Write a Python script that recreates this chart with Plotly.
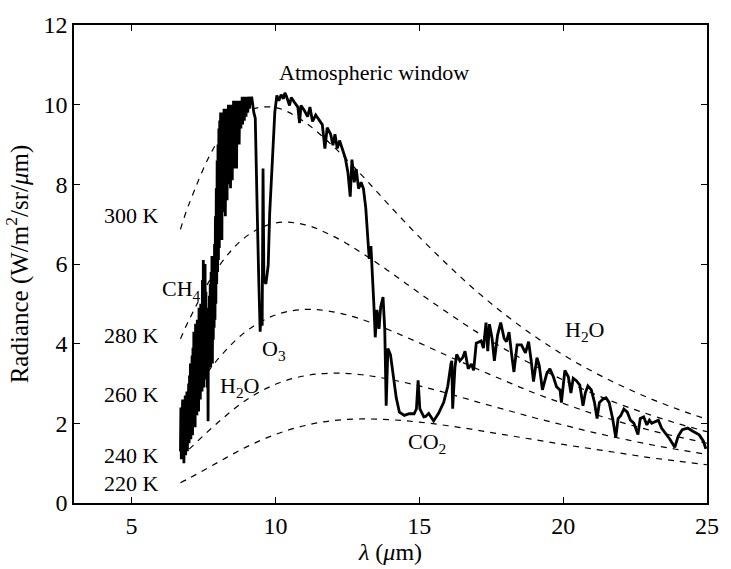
import plotly.graph_objects as go

# ---- Blackbody reference curves ----
bb_lambda = [6.7, 7, 8, 9, 10, 11, 12, 13, 14, 15, 16, 17, 18, 19, 20, 21, 22, 23, 24, 25]
bb_300 = [6.87, 7.51, 9.08, 9.83, 9.93, 9.57, 8.96, 8.23, 7.44, 6.68, 5.97, 5.31, 4.72, 4.19, 3.72, 3.31, 2.95, 2.63, 2.35, 2.10]
bb_280 = [4.12, 4.60, 5.91, 6.70, 7.03, 6.99, 6.70, 6.28, 5.79, 5.27, 4.77, 4.29, 3.85, 3.45, 3.09, 2.76, 2.47, 2.22, 1.99, 1.79]
bb_260 = [2.29, 2.62, 3.61, 4.32, 4.72, 4.86, 4.80, 4.61, 4.33, 4.02, 3.69, 3.37, 3.06, 2.76, 2.50, 2.25, 2.03, 1.83, 1.66, 1.50]
bb_240 = [1.15, 1.35, 2.02, 2.59, 2.98, 3.19, 3.26, 3.22, 3.10, 2.94, 2.75, 2.54, 2.34, 2.14, 1.96, 1.78, 1.62, 1.47, 1.34, 1.22]
bb_220 = [0.51, 0.62, 1.02, 1.41, 1.72, 1.94, 2.07, 2.11, 2.09, 2.03, 1.94, 1.83, 1.71, 1.59, 1.47, 1.36, 1.25, 1.14, 1.05, 0.96]
bb_labels = ["300 K", "280 K", "260 K", "240 K", "220 K"]
bb_label_y = [7.21, 4.21, 2.72, 1.20, 0.49]

# ---- Measured spectrum (read from the chart) ----
# dense, noisy part of the band (6.7 - 9.2 um)
dense_lambda = [
    6.700, 6.715, 6.730, 6.745, 6.760, 6.775, 6.790, 6.805, 6.820, 6.835,
    6.850, 6.865, 6.880, 6.895, 6.910, 6.925, 6.940, 6.955, 6.970, 6.985,
    7.000, 7.015, 7.030, 7.045, 7.060, 7.075, 7.090, 7.105, 7.120, 7.135,
    7.150, 7.165, 7.180, 7.195, 7.210, 7.225, 7.240, 7.255, 7.270, 7.285,
    7.300, 7.315, 7.330, 7.345, 7.360, 7.375, 7.390, 7.405, 7.420, 7.435,
    7.450, 7.465, 7.480, 7.495, 7.510, 7.525, 7.540, 7.555, 7.570, 7.585,
    7.600, 7.615, 7.630, 7.645, 7.660, 7.675, 7.690, 7.705, 7.720, 7.735,
    7.750, 7.765, 7.780, 7.795, 7.810, 7.825, 7.840, 7.855, 7.870, 7.885,
    7.900, 7.915, 7.930, 7.945, 7.960, 7.975, 7.990, 8.005, 8.020, 8.035,
    8.050, 8.065, 8.080, 8.095, 8.110, 8.125, 8.140, 8.155, 8.170, 8.185,
    8.200, 8.215, 8.230, 8.245, 8.260, 8.275, 8.290, 8.305, 8.320, 8.335,
    8.350, 8.365, 8.380, 8.395, 8.410, 8.425, 8.440, 8.455, 8.470, 8.485,
    8.500, 8.515, 8.530, 8.545, 8.560, 8.575, 8.590, 8.605, 8.620, 8.635,
    8.650, 8.665, 8.680, 8.695, 8.710, 8.725, 8.740, 8.755, 8.770, 8.785,
    8.800, 8.815, 8.830, 8.845, 8.860, 8.875, 8.890, 8.905, 8.920, 8.935,
    8.950, 8.965, 8.980, 8.995, 9.010, 9.025, 9.040, 9.055, 9.070, 9.085,
    9.100, 9.115, 9.130, 9.145, 9.160, 9.175, 9.190,
]
dense_radiance = [
    1.3, 2.4, 1.1, 2.0, 1.5, 2.6, 1.2, 2.3, 1.0, 2.5,
    1.4, 2.7, 1.2, 2.2, 1.6, 2.8, 1.3, 2.5, 1.7, 3.0,
    1.5, 3.2, 1.8, 3.5, 1.6, 2.9, 2.0, 3.7, 1.7, 3.9,
    2.0, 4.3, 2.3, 3.8, 1.9, 4.5, 2.4, 4.1, 2.2, 4.6,
    2.5, 4.4, 2.3, 4.9, 2.8, 4.2, 2.6, 5.0, 3.0, 4.7,
    2.8, 5.6, 3.2, 6.1, 2.9, 5.8, 3.4, 6.0, 3.1, 5.3,
    3.3, 4.8, 2.9, 4.4, 2.05, 4.9, 3.4, 5.2, 3.6, 5.5,
    3.4, 5.8, 3.9, 6.2, 3.5, 6.1, 4.1, 5.7, 4.4, 6.5,
    4.6, 7.2, 5.0, 7.9, 5.5, 8.6, 5.8, 9.0, 6.1, 9.4,
    6.4, 9.6, 6.9, 9.8, 7.4, 9.5, 6.6, 9.7, 7.8, 9.8,
    7.3, 9.9, 7.8, 9.6, 7.2, 9.8, 8.3, 9.9, 7.6, 9.7,
    8.5, 10.0, 8.0, 9.8, 8.7, 9.9, 7.9, 10.0, 8.6, 9.9,
    8.1, 10.0, 8.8, 10.1, 9.0, 9.9, 8.4, 10.1, 9.2, 10.0,
    8.4, 10.1, 9.1, 9.9, 9.4, 10.1, 9.0, 10.0, 9.5, 10.1,
    9.4, 10.1, 9.7, 10.2, 9.5, 10.1, 9.8, 10.15, 9.6, 10.2,
    9.8, 10.1, 9.7, 10.2, 9.9, 10.15, 9.8, 10.2, 10.0, 10.1,
    9.9, 10.2, 10.0, 10.15, 10.05, 10.2, 10.1,
]
# rest of the spectrum (9.2 - 25 um)
rest_lambda = [
    9.25, 9.30, 9.33, 9.37, 9.42, 9.47,
    9.50, 9.54, 9.57, 9.60, 9.67, 9.75, 9.80, 9.90, 9.98, 10.05,
    10.12, 10.20, 10.28, 10.33, 10.38, 10.49, 10.55, 10.66, 10.78, 10.84,
    10.89, 11.00, 11.12, 11.20, 11.29, 11.40, 11.52, 11.63, 11.72, 11.80,
    11.92, 12.00, 12.07, 12.15, 12.23, 12.34, 12.43, 12.52, 12.60, 12.66,
    12.74, 12.81, 12.89, 12.98, 13.06, 13.14, 13.20, 13.26, 13.32, 13.38,
    13.42, 13.47, 13.53, 13.60, 13.66, 13.74, 13.80, 13.85, 13.91, 14.00,
    14.08, 14.20, 14.31, 14.48, 14.65, 14.82, 14.90, 14.96, 15.02, 15.16,
    15.22, 15.33, 15.50, 15.67, 15.85, 15.99, 16.10, 16.13, 16.16, 16.24,
    16.30, 16.41, 16.51, 16.59, 16.70, 16.81, 16.89, 16.98, 17.15, 17.23,
    17.32, 17.38, 17.44, 17.53, 17.61, 17.72, 17.83, 17.95, 18.03, 18.12,
    18.21, 18.29, 18.40, 18.55, 18.69, 18.80, 18.89, 18.97, 19.09, 19.17,
    19.28, 19.43, 19.54, 19.66, 19.77, 19.89, 19.94, 20.06, 20.18, 20.27,
    20.35, 20.46, 20.58, 20.69, 20.77, 20.86, 20.98, 21.09, 21.18, 21.26,
    21.37, 21.49, 21.60, 21.72, 21.83, 21.91, 22.00, 22.11, 22.23, 22.34,
    22.46, 22.60, 22.68, 22.80, 22.91, 23.00, 23.08, 23.20, 23.31, 23.42,
    23.60, 23.71, 23.88, 24.00, 24.14, 24.33, 24.51, 24.73, 24.87, 24.96,
]
rest_radiance = [
    9.8, 9.66, 8.86, 7.25, 5.65, 4.3,
    4.85, 4.45, 8.4, 5.6, 5.5, 5.97, 7.25, 8.86, 9.82, 10.23,
    10.1, 10.25, 10.15, 10.3, 10.22, 9.98, 10.18, 10.06, 9.94, 9.54,
    9.98, 9.86, 9.70, 9.94, 9.58, 9.74, 9.62, 9.50, 8.90, 9.42,
    9.26, 8.98, 9.26, 8.90, 9.10, 8.86, 8.66, 8.30, 7.69, 8.62,
    8.05, 8.38, 7.89, 8.05, 7.89, 7.41, 6.77, 6.13, 6.45, 5.73,
    5.01, 4.16, 4.85, 4.37, 4.93, 5.17, 4.37, 2.44, 3.88, 3.72,
    3.24, 2.64, 2.28, 2.20, 2.24, 2.24, 2.36, 3.08, 2.36, 2.16,
    2.17, 2.25, 2.06, 2.25, 2.53, 2.93, 3.49, 3.57, 2.37, 3.41,
    3.73, 3.57, 3.65, 3.81, 3.37, 3.49, 3.33, 4.01, 4.07, 3.89,
    4.53, 3.81, 4.49, 4.13, 3.57, 4.21, 4.53, 4.13, 4.05, 4.29,
    3.73, 3.29, 3.97, 3.97, 3.77, 4.05, 3.57, 3.05, 3.65, 3.45,
    2.84, 3.25, 3.37, 3.17, 2.92, 2.84, 2.52, 3.33, 3.17, 2.76,
    3.13, 3.07, 2.96, 2.44, 2.76, 2.94, 2.84, 2.52, 2.12, 2.52,
    2.60, 2.64, 2.52, 2.12, 1.64, 2.12, 2.19, 2.36, 2.28, 2.08,
    2.00, 1.72, 2.12, 2.16, 1.96, 2.08, 2.00, 2.04, 2.08, 1.88,
    1.72, 1.60, 1.40, 1.68, 1.84, 1.88, 1.80, 1.71, 1.56, 1.36,
]
spec_lambda = dense_lambda + rest_lambda
spec_radiance = dense_radiance + rest_radiance

# ---- Band annotations ----
band_text = ["Atmospheric window", "CH<sub>4</sub>", "O<sub>3</sub>", "H<sub>2</sub>O", "CO<sub>2</sub>", "H<sub>2</sub>O"]
band_x = [10.04, 6.0, 9.46, 7.99, 14.55, 20.0]
band_y = [10.82, 5.35, 3.85, 2.9, 1.5, 4.33]

x_ticks = [5, 10, 15, 20, 25]
y_ticks = [0, 2, 4, 6, 8, 10, 12]

FONT = "Liberation Serif"

fig = go.Figure()
for ys in [bb_300, bb_280, bb_260, bb_240, bb_220]:
    fig.add_trace(go.Scatter(
        x=bb_lambda, y=ys, mode="lines",
        line=dict(color="black", width=1.2, dash="6px,6px", shape="spline"),
        showlegend=False, hoverinfo="skip"))

fig.add_trace(go.Scatter(
    x=spec_lambda, y=spec_radiance, mode="lines",
    line=dict(color="black", width=2.8),
    showlegend=False))

for lab, yv in zip(bb_labels, bb_label_y):
    fig.add_annotation(x=3.99, y=yv, text=lab, showarrow=False,
                       xanchor="left", yanchor="middle",
                       font=dict(family=FONT, size=22, color="black"))
for t, xv, yv in zip(band_text, band_x, band_y):
    fig.add_annotation(x=xv, y=yv, text=t, showarrow=False,
                       xanchor="left", yanchor="middle",
                       font=dict(family=FONT, size=22, color="black"))

axis_common = dict(
    showline=True, linecolor="black", linewidth=1.5, mirror="ticks",
    ticks="inside", ticklen=6, tickwidth=1, tickcolor="black",
    showgrid=False, zeroline=False,
    tickfont=dict(family=FONT, size=24, color="black"),
)
fig.update_xaxes(range=[3, 25], tickvals=x_ticks,
                 title=dict(text="<i>λ</i> (<i>μ</i>m)", font=dict(family=FONT, size=24, color="black"), standoff=2),
                 **axis_common)
fig.update_yaxes(range=[0, 12], tickvals=y_ticks,
                 title=dict(text="Radiance (W/m<sup>2</sup>/sr/<i>μ</i>m)", font=dict(family=FONT, size=25, color="black"), standoff=8),
                 **axis_common)

fig.update_layout(
    width=731, height=569,
    margin=dict(l=74, r=13, t=16, b=54),
    plot_bgcolor="white", paper_bgcolor="white",
)

fig.write_html("out.html")
